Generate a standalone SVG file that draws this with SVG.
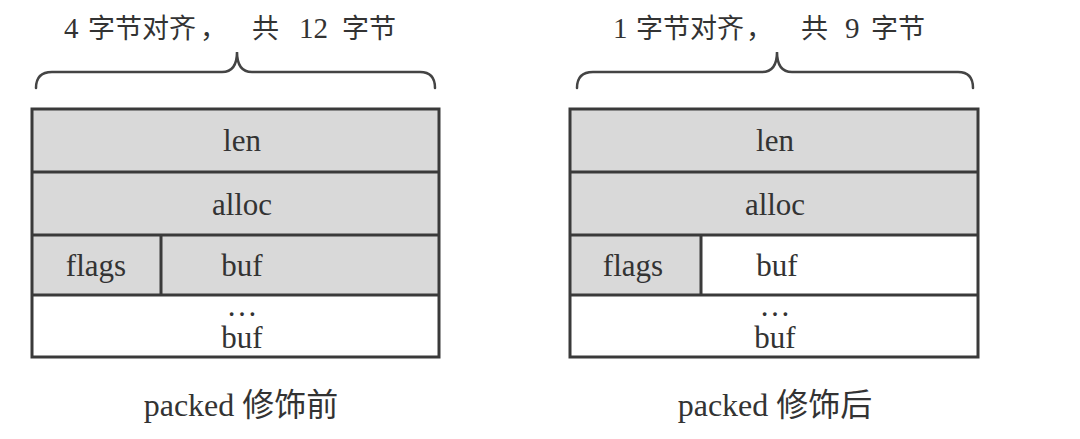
<svg xmlns="http://www.w3.org/2000/svg" width="1080" height="439" viewBox="0 0 1080 439">
<style>
.t{font-family:"Liberation Serif","Noto Sans CJK SC",serif;font-size:31px;fill:#333;text-anchor:middle}
.cap{font-family:"Liberation Serif","Noto Sans CJK SC",serif;font-size:32px;fill:#333;text-anchor:middle}
.h{font-family:"Liberation Serif","Noto Sans CJK SC",serif;font-size:29px;fill:#333}
.c{font-family:"Noto Sans CJK SC",sans-serif}
.hc{font-family:"Noto Sans CJK SC",sans-serif;font-size:27px}
.g{fill:#d9d9d9}
.ln{stroke:#3a3a3a;stroke-width:3;fill:none}
.br{stroke:#444;stroke-width:2.5;fill:none;stroke-linecap:round}
</style>
<rect width="1080" height="439" fill="#fff"/>
<g id="left">
  <g id="left-title">
    <text class="h" y="38"><tspan x="64">4</tspan><tspan class="hc" x="88">字节对齐</tspan><tspan class="hc" x="200">，</tspan><tspan class="hc" x="252">共</tspan><tspan x="299">12</tspan><tspan class="hc" x="342">字节</tspan></text>
    <path class="br" d="M36,88 Q36,72 52,72 L222,72 Q237,72 237,52 Q237,72 252,72 L420,72 Q435,72 435,88"/>
  </g>
  <g id="left-len"><rect class="g" x="32" y="109" width="407" height="63"/><text class="t" x="242" y="151">len</text></g>
  <g id="left-alloc"><rect class="g" x="32" y="172" width="407" height="63"/><text class="t" x="242" y="215">alloc</text></g>
  <g id="left-flags"><rect class="g" x="32" y="235" width="129" height="60"/><text class="t" x="96" y="276">flags</text></g>
  <g id="left-buf"><rect class="g" x="161" y="235" width="278" height="60"/><text class="t" x="242" y="276">buf</text></g>
  <g id="left-buf2"><rect fill="#fff" x="32" y="295" width="407" height="62"/><text class="t" x="242" y="316">…</text><text class="t" x="242" y="348">buf</text></g>
  <g id="left-lines">
    <rect class="ln" x="32" y="109" width="407" height="248"/>
    <path class="ln" d="M32,172H439M32,235H439M32,295H439M161,235V295"/>
  </g>
  <text id="left-caption" class="cap" x="241" y="416">packed <tspan class="c">修饰前</tspan></text>
</g>
<g id="right">
  <g id="right-title">
    <text class="h" y="38"><tspan x="613">1</tspan><tspan class="hc" x="636">字节对齐</tspan><tspan class="hc" x="746">，</tspan><tspan class="hc" x="801">共</tspan><tspan x="845">9</tspan><tspan class="hc" x="871">字节</tspan></text>
    <path class="br" d="M577,88 Q577,72 593,72 L762,72 Q777,72 777,52 Q777,72 792,72 L958,72 Q973,72 973,88"/>
  </g>
  <g id="right-len"><rect class="g" x="570" y="109" width="408" height="63"/><text class="t" x="775" y="151">len</text></g>
  <g id="right-alloc"><rect class="g" x="570" y="172" width="408" height="63"/><text class="t" x="775" y="215">alloc</text></g>
  <g id="right-flags"><rect class="g" x="570" y="235" width="131" height="60"/><text class="t" x="633" y="276">flags</text></g>
  <g id="right-buf"><rect fill="#fff" x="701" y="235" width="277" height="60"/><text class="t" x="777" y="276">buf</text></g>
  <g id="right-buf2"><rect fill="#fff" x="570" y="295" width="408" height="62"/><text class="t" x="775" y="316">…</text><text class="t" x="775" y="348">buf</text></g>
  <g id="right-lines">
    <rect class="ln" x="570" y="109" width="408" height="248"/>
    <path class="ln" d="M570,172H978M570,235H978M570,295H978M701,235V295"/>
  </g>
  <text id="right-caption" class="cap" x="775" y="416">packed <tspan class="c">修饰后</tspan></text>
</g>
<g id="connectors"/>
</svg>
